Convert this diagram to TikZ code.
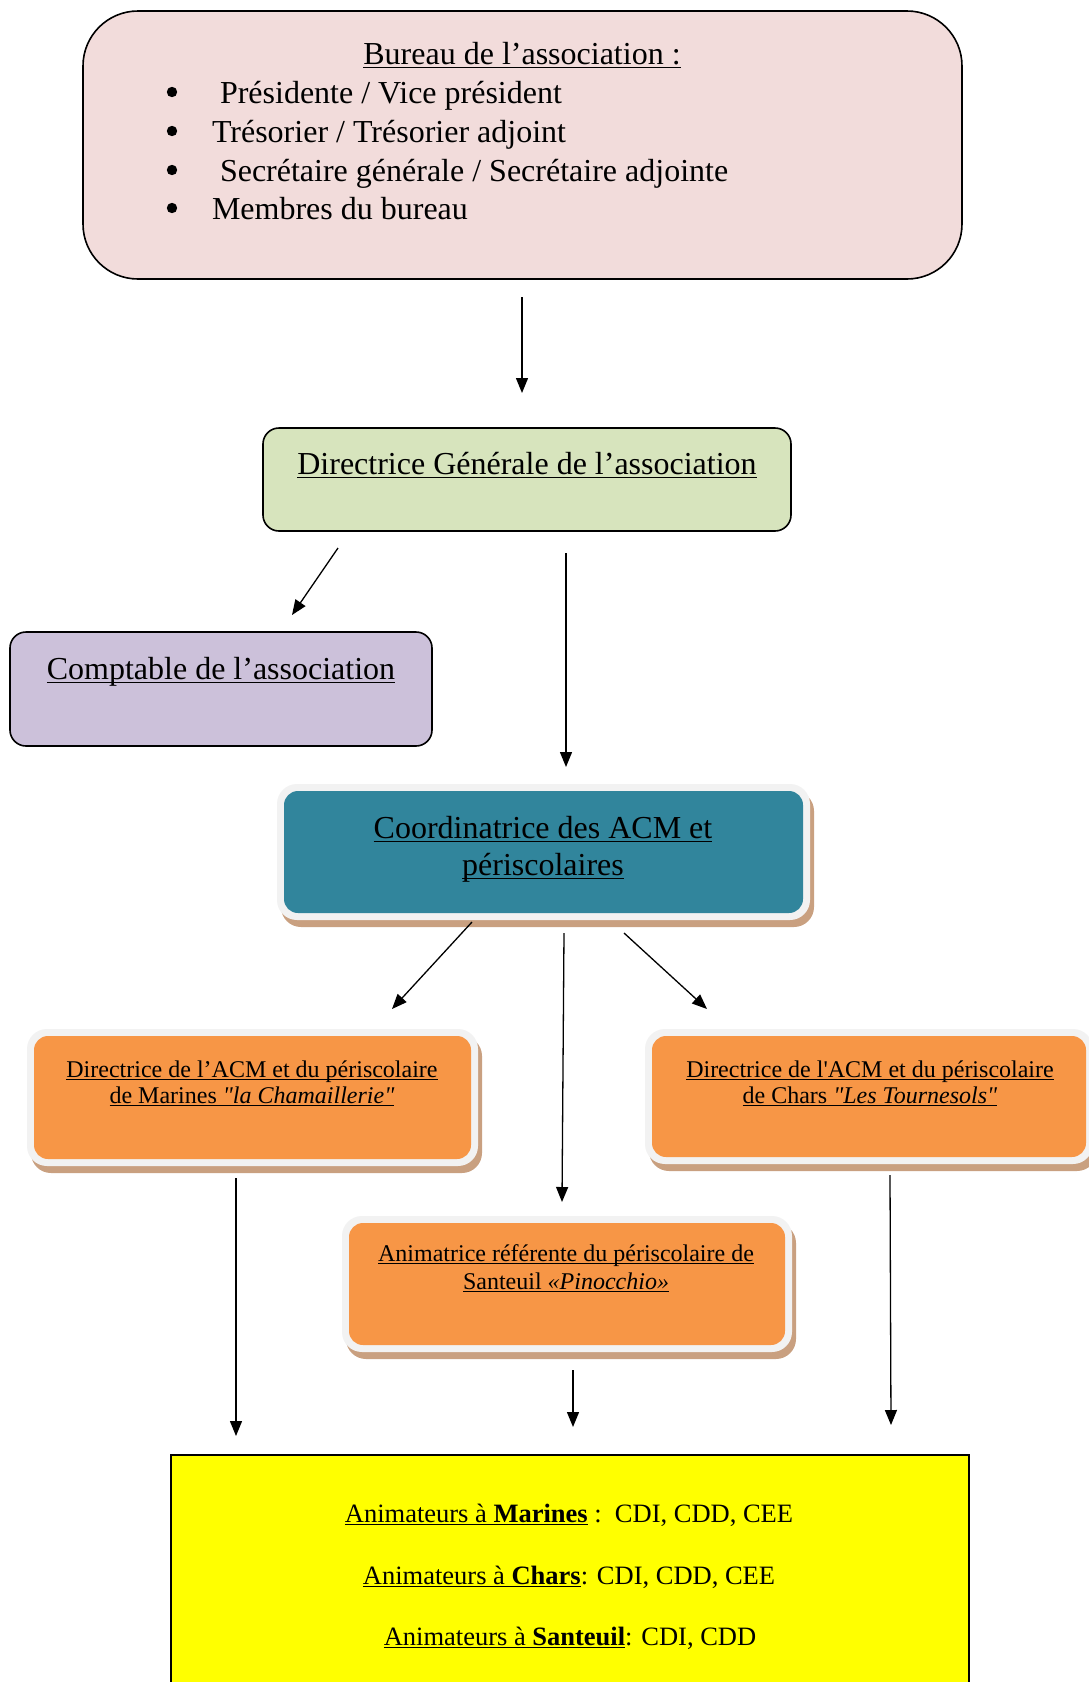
\documentclass[tikz,border=0pt]{standalone}
\usepackage{fontspec}
\setmainfont{Liberation Serif}[Ligatures=TeXOff]
\newcommand\myul[1]{\setbox0\hbox{#1}\leavevmode\rlap{\rule[-0.13em]{\wd0}{0.045em}}\box0\relax}
\usetikzlibrary{arrows.meta,calc,backgrounds}
\definecolor{pinkc}{HTML}{F2DCDB}
\definecolor{greenc}{HTML}{D7E4BD}
\definecolor{lavc}{HTML}{CCC1DA}
\definecolor{tealc}{HTML}{31859C}
\definecolor{orangec}{HTML}{F79646}
\definecolor{yellowc}{HTML}{FFFF00}
\definecolor{bordc}{HTML}{F2F2F2}
\definecolor{shadowc}{HTML}{C9A080}
\newcommand\fancyback[1]{%
  \fill[shadowc, rounded corners=20pt] ($(#1.north west)+(-3,0)$) rectangle ($(#1.south east)+(11,14)$);
  \fill[bordc, rounded corners=20pt] ($(#1.north west)+(-7,-7)$) rectangle ($(#1.south east)+(7,7)$);
}
\begin{document}
\begin{tikzpicture}[x=1pt,y=-1pt,
  every node/.style={inner sep=0pt, outer sep=0pt},
  bigtxt/.style={font=\fontsize{32}{38}\selectfont, anchor=base},
  listtxt/.style={font=\fontsize{32}{38}\selectfont, anchor=base west},
  midtxt/.style={font=\fontsize{24}{27}\selectfont, anchor=base},
  yeltxt/.style={font=\fontsize{26.5}{32}\selectfont, anchor=base},
  bulletdot/.style={fill=black},
  arr/.style={line width=1.3pt, -{Triangle[length=15pt,width=12pt]}},
  plainbox/.style={draw=black, line width=1.6pt, rounded corners=16pt},
  fancybox/.style={rounded corners=14pt}]
\useasboundingbox (0,0) rectangle (1089,1682);

% boxes
\node[plainbox, fill=pinkc, rounded corners=55pt, minimum width=879pt, minimum height=268pt] (bureau) at (522.5,145) {};
\node[plainbox, fill=greenc, minimum width=528pt, minimum height=103pt] (dg) at (527,479.5) {};
\node[plainbox, fill=lavc, minimum width=422pt, minimum height=114pt] (compta) at (221,689) {};
\node[fancybox, fill=tealc, minimum width=519pt, minimum height=122pt] (coord) at (543.5,852) {};
\node[fancybox, fill=orangec, minimum width=437pt, minimum height=123pt] (marines) at (252.5,1097.5) {};
\node[fancybox, fill=orangec, minimum width=434pt, minimum height=121pt] (chars) at (869,1096.5) {};
\node[fancybox, fill=orangec, minimum width=436pt, minimum height=122pt] (santeuil) at (567,1284) {};
\node[draw=black, line width=1.6pt, fill=yellowc, minimum width=798pt, minimum height=245pt] (anim) at (570,1577.5) {};

\begin{scope}[on background layer]
  \fill[white] (0,0) rectangle (1089,1682);
  \fancyback{coord}
  \fancyback{marines}
  \fancyback{chars}
  \fancyback{santeuil}
\end{scope}

% texts
\node[bigtxt] (bureaut) at (522,64) {\myul{Bureau de l’association :}};
\node[listtxt] (b1) at (220,103) {Présidente / Vice président};
\node[listtxt] (b2) at (212,142) {Trésorier / Trésorier adjoint};
\node[listtxt] (b3) at (220,181) {Secrétaire générale / Secrétaire adjointe};
\node[listtxt] (b4) at (212,219) {Membres du bureau};
\fill[bulletdot] (172,92) circle (5.2);
\fill[bulletdot] (172,131) circle (5.2);
\fill[bulletdot] (172,170) circle (5.2);
\fill[bulletdot] (172,208) circle (5.2);

\node[bigtxt] (dgt) at (527,474) {\myul{Directrice Générale de l’association}};
\node[bigtxt] (comptat) at (221,679) {\myul{Comptable de l’association}};
\node[bigtxt] (coordt1) at (543,838) {\myul{Coordinatrice des ACM et}};
\node[bigtxt] (coordt2) at (543,875) {\myul{périscolaires}};

\node[midtxt] (mart1) at (252,1077) {\myul{Directrice de l’ACM et du périscolaire}};
\node[midtxt] (mart2) at (252,1103) {\myul{de Marines \textit{"la Chamaillerie"}}};
\node[midtxt] (chat1) at (870,1077) {\myul{Directrice de l'ACM et du périscolaire}};
\node[midtxt] (chat2) at (870,1103) {\myul{de Chars \textit{"Les Tournesols"}}};
\node[midtxt] (sant1) at (566,1261) {\myul{Animatrice référente du périscolaire de}};
\node[midtxt] (sant2) at (566,1289) {\myul{Santeuil \textit{«Pinocchio»}}};

\node[yeltxt] (y1) at (569,1522) {\myul{Animateurs à \textbf{Marines}} :\ \ CDI, CDD, CEE};
\node[yeltxt] (y2) at (569,1584) {\myul{Animateurs à \textbf{Chars}}: CDI, CDD, CEE};
\node[yeltxt] (y3) at (570,1645) {\myul{Animateurs à \textbf{Santeuil}}: CDI, CDD};

% connector ends
\coordinate (a1s) at (522,297);  \coordinate (a1e) at (522,393);
\coordinate (a2s) at (338,548);  \coordinate (a2e) at (292,615);
\coordinate (a3s) at (566,553);  \coordinate (a3e) at (566,767);
\coordinate (a4s) at (472,922);  \coordinate (a4e) at (392,1009);
\coordinate (a5s) at (564,933);  \coordinate (a5e) at (562,1202);
\coordinate (a6s) at (624,933);  \coordinate (a6e) at (707,1009);
\coordinate (a7s) at (236,1178); \coordinate (a7e) at (236,1436);
\coordinate (a8s) at (573,1370); \coordinate (a8e) at (573,1427);
\coordinate (a9s) at (890,1175); \coordinate (a9e) at (891,1425);

\draw[arr] (a1s) -- (a1e);
\draw[arr] (a2s) -- (a2e);
\draw[arr] (a3s) -- (a3e);
\draw[arr] (a4s) -- (a4e);
\draw[arr] (a5s) -- (a5e);
\draw[arr] (a6s) -- (a6e);
\draw[arr] (a7s) -- (a7e);
\draw[arr] (a8s) -- (a8e);
\draw[arr] (a9s) -- (a9e);
\end{tikzpicture}
\end{document}
